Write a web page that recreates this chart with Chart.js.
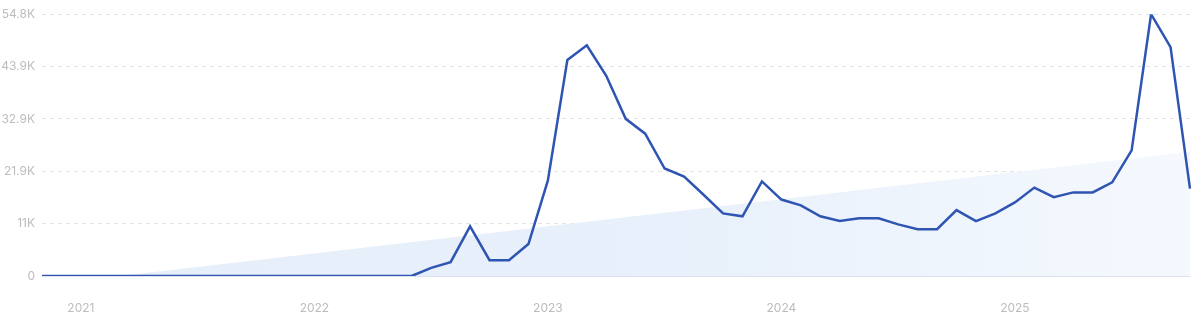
<!DOCTYPE html>
<html>
<head>
<meta charset="utf-8">
<script src="https://cdn.jsdelivr.net/npm/chart.js@4.4.1/dist/chart.umd.min.js"></script>
<style>
  html, body { margin: 0; padding: 0; background: #fff; }
  #wrap { width: 1200px; height: 312px; }
</style>
</head>
<body>
<div id="wrap"><canvas id="trendChart" width="1200" height="312"></canvas></div>
<script>
// months Nov 2020 .. Oct 2025
const months = [
  "2020-11","2020-12",
  "2021-01","2021-02","2021-03","2021-04","2021-05","2021-06","2021-07","2021-08","2021-09","2021-10","2021-11","2021-12",
  "2022-01","2022-02","2022-03","2022-04","2022-05","2022-06","2022-07","2022-08","2022-09","2022-10","2022-11","2022-12",
  "2023-01","2023-02","2023-03","2023-04","2023-05","2023-06","2023-07","2023-08","2023-09","2023-10","2023-11","2023-12",
  "2024-01","2024-02","2024-03","2024-04","2024-05","2024-06","2024-07","2024-08","2024-09","2024-10","2024-11","2024-12",
  "2025-01","2025-02","2025-03","2025-04","2025-05","2025-06","2025-07","2025-08","2025-09","2025-10"
];

const volume = [
  0, 0,
  0, 0, 0, 0, 0, 0, 0, 0, 0, 0, 0, 0,
  0, 0, 0, 0, 0, 0, 1700, 2900, 10400, 3300, 3300, 6700,
  20000, 45200, 48300, 41900, 32900, 29800, 22500, 20800, 17000, 13100, 12500, 19800,
  16000, 14800, 12500, 11500, 12100, 12100, 10800, 9800, 9800, 13800, 11500, 13100,
  15400, 18500, 16500, 17500, 17500, 19600, 26300, 54800, 47900, 18300
];

// trend line end points
const trendPoints = [
  { x: "2021-03", y: 0 },
  { x: "2025-10", y: 26000 }
];

const yTickValues = [0, 10960, 21920, 32880, 43840, 54800];
const yTickLabels = ["0", "11K", "21.9K", "32.9K", "43.9K", "54.8K"];

const ctx = document.getElementById("trendChart").getContext("2d");

// solid baseline at zero, the other y grid lines stay dashed
const zeroLine = {
  id: "zeroLine",
  beforeDatasetsDraw(chart) {
    const { ctx, chartArea, scales } = chart;
    const y = Math.round(scales.y.getPixelForValue(0)) + 0.5;
    ctx.save();
    ctx.strokeStyle = "#dde3ee";
    ctx.lineWidth = 1;
    ctx.beginPath();
    ctx.moveTo(chartArea.left, y);
    ctx.lineTo(chartArea.right, y);
    ctx.stroke();
    ctx.restore();
  }
};

new Chart(ctx, {
  type: "line",
  data: {
    labels: months,
    datasets: [
      {
        label: "volume",
        data: volume,
        borderColor: "#2f55b3",
        borderWidth: 2.5,
        pointRadius: 0,
        tension: 0,
        fill: false
      },
      {
        label: "trend",
        data: trendPoints,
        borderWidth: 0,
        borderColor: "rgba(0,0,0,0)",
        pointRadius: 0,
        fill: "origin",
        backgroundColor: (c) => {
          const area = c.chart.chartArea;
          if (!area) return "#eaf1fb";
          const g = c.chart.ctx.createLinearGradient(area.left, 0, area.right, 0);
          g.addColorStop(0, "#e6eefa");
          g.addColorStop(0.55, "#e8f0fb");
          g.addColorStop(1, "#f5f9fe");
          return g;
        }
      }
    ]
  },
  options: {
    responsive: false,
    animation: false,
    layout: { padding: { top: 13, right: 10, bottom: 0, left: 0 } },
    plugins: {
      legend: { display: false },
      tooltip: { enabled: false }
    },
    scales: {
      x: {
        offset: false,
        grid: { display: false },
        border: { display: false },
        ticks: {
          autoSkip: false,
          maxRotation: 0,
          padding: 17,
          color: "#bcbcbc",
          font: { family: "Inter", size: 12 },
          callback: function (value, index) {
            const m = months[index];
            return m.endsWith("-01") ? m.slice(0, 4) : null;
          }
        },
        afterFit: (scale) => { scale.height = 36; }
      },
      y: {
        min: 0,
        max: 54800,
        border: { display: false, dash: [4, 4] },
        grid: {
          drawTicks: false,
          color: (c) => (c.tick && c.tick.value === 0 ? "rgba(0,0,0,0)" : "#e3e3e3"),
          lineWidth: 1
        },
        ticks: {
          padding: 7,
          color: "#bcbcbc",
          font: { family: "Inter", size: 12 },
          callback: function (value) {
            const i = yTickValues.indexOf(value);
            return i >= 0 ? yTickLabels[i] : "";
          }
        },
        afterBuildTicks: (scale) => {
          scale.ticks = yTickValues.map((v) => ({ value: v }));
        },
        afterFit: (scale) => { scale.width = 42; }
      }
    }
  },
  plugins: [zeroLine]
});
</script>
</body>
</html>
